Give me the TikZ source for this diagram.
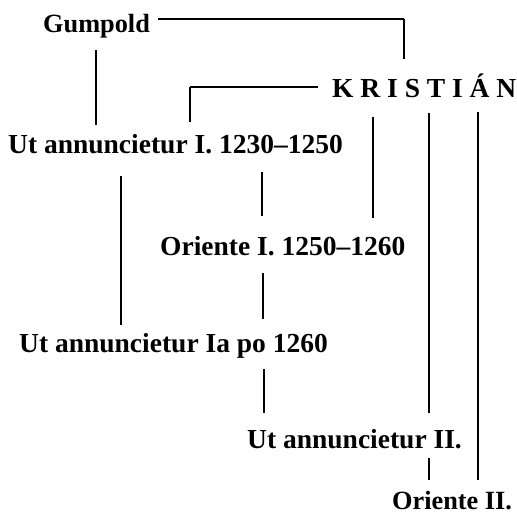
\documentclass[tikz,border=0pt]{standalone}
\usepackage{fontspec}
\setmainfont{Liberation Serif}
\begin{document}
\begin{tikzpicture}[x=1pt,y=-1pt,
  lbl/.style={anchor=base west,inner sep=0pt,font=\fontsize{27.5}{30}\selectfont\bfseries},
  lbls/.style={lbl,font=\fontsize{26.3}{30}\selectfont\bfseries},
  ln/.style={line width=1.2pt},
  lnb/.style={line width=2pt}]
\useasboundingbox (0,0) rectangle (517,514);
% texts
\node[lbls] (g) at (43,32) {Gumpold};
\node[lbl] (k) at (332,97) {K R I S T I Á N};
\node[lbl] (u1) at (8,153) {Ut annuncietur I. 1230–1250};
\node[lbl] (o1) at (160,255) {Oriente I. 1250–1260};
\node[lbl] (u1a) at (19,352) {Ut annuncietur Ia po 1260};
\node[lbl] (u2) at (247,448) {Ut annuncietur II.};
\node[lbls,text depth=0pt] (o2) at (392,509) {Oriente II.};
% connector end points
\coordinate (g1) at (158,19);  \coordinate (g2) at (404,19);  \coordinate (g3) at (404,59);
\coordinate (g4) at (96,50);   \coordinate (g5) at (96,125);
\coordinate (k1) at (318,87);  \coordinate (k2) at (190,87);  \coordinate (k3) at (190,122);
\coordinate (k4) at (373,117); \coordinate (k5) at (373,218);
\coordinate (k6) at (429,113); \coordinate (k7) at (429,413);
\coordinate (k8) at (478,112); \coordinate (k9) at (478,480);
\coordinate (a1) at (121,176); \coordinate (a2) at (121,325);
\coordinate (b1) at (262,172); \coordinate (b2) at (262,216);
\coordinate (c1) at (263,273); \coordinate (c2) at (263,319);
\coordinate (d1) at (264,369); \coordinate (d2) at (264,413);
\coordinate (e1) at (429,458); \coordinate (e2) at (429,480);
% connectors
\draw[ln] (g1) -- (g2);
\draw[lnb] (g2) -- (g3);
\draw[ln] (g4) -- (g5);
\draw[ln] (k1) -- (k2);
\draw[lnb] (k2) -- (k3);
\draw[ln] (k4) -- (k5);
\draw[ln] (k6) -- (k7);
\draw[ln] (k8) -- (k9);
\draw[ln] (a1) -- (a2);
\draw[ln] (b1) -- (b2);
\draw[lnb] (c1) -- (c2);
\draw[ln] (d1) -- (d2);
\draw[lnb] (e1) -- (e2);
\end{tikzpicture}
\end{document}
